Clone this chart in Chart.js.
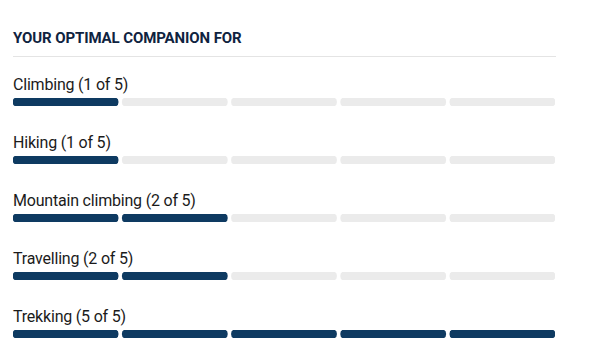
<!DOCTYPE html>
<html>
<head>
<meta charset="utf-8">
<script src="https://cdn.jsdelivr.net/npm/chart.js@4.4.1/dist/chart.umd.min.js"></script>
<style>
  html, body { margin: 0; padding: 0; background: #fff; }
  body { width: 591px; height: 351px; overflow: hidden; position: relative; }
  .title {
    position: absolute; left: 13px; top: 29px;
    font-family: "Roboto", sans-serif;
    font-weight: bold; font-size: 15px; color: #0f2340; letter-spacing: -0.1px;
  }
  .rule { position: absolute; left: 13px; top: 56px; width: 543px; height: 1px; background: #e4e4e4; }
  #rows { position: absolute; left: 13px; top: 72px; width: 542px; }
  .row { height: 58px; }
  .label {
    font-family: "Roboto", sans-serif;
    font-size: 16px; line-height: 25px; color: #1b1b1b; height: 26px;
    letter-spacing: -0.2px;
  }
  .bar { position: relative; width: 542px; height: 8px; }
</style>
</head>
<body>
<div class="title">YOUR OPTIMAL COMPANION FOR</div>
<div class="rule"></div>
<div id="rows"></div>
<script>
var activities = ['Climbing', 'Hiking', 'Mountain climbing', 'Travelling', 'Trekking'];
var scores = [1, 1, 2, 2, 5];
var maxScore = 5;

var onColor = '#0e3a61';
var offColor = '#ebebeb';
var gap = 0.037; // space between segments, in score units

var rowsEl = document.getElementById('rows');

activities.forEach(function(name, i){
    var row = document.createElement('div');
    row.className = 'row';
    row.innerHTML = '<div class="label">' + name + ' (' + scores[i] + ' of ' + maxScore + ')</div>'
        + '<div class="bar"><canvas id="bar' + i + '"></canvas></div>';
    rowsEl.appendChild(row);

    var datasets = [];
    for (var k = 0; k < maxScore; k++) {
        datasets.push({
            data: [[k, k + 1 - gap]],
            backgroundColor: k < scores[i] ? onColor : offColor,
            borderRadius: 20,
            borderSkipped: false,
            barPercentage: 1,
            categoryPercentage: 1
        });
    }

    new Chart(document.getElementById('bar' + i), {
        type: 'bar',
        data: { labels: [name], datasets: datasets },
        options: {
            indexAxis: 'y',
            responsive: true,
            maintainAspectRatio: false,
            animation: false,
            layout: { padding: 0 },
            plugins: { legend: { display: false }, tooltip: { enabled: false } },
            scales: {
                x: { display: false, min: 0, max: maxScore - gap },
                y: { display: false, stacked: true }
            }
        }
    });
});
</script>
</body>
</html>
